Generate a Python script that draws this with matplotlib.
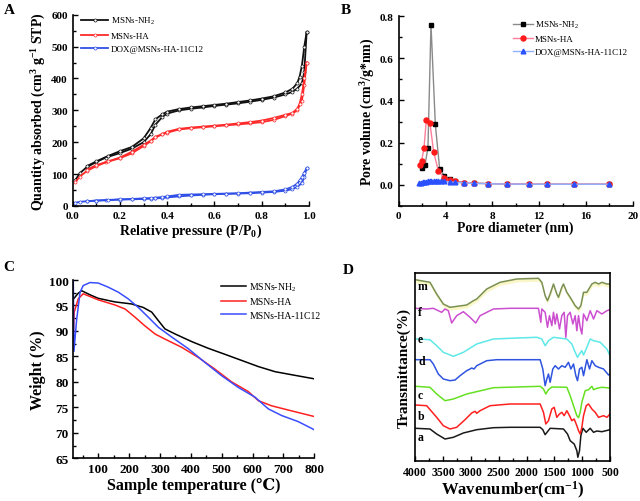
import matplotlib
matplotlib.use("Agg")
import matplotlib.pyplot as plt
from matplotlib.ticker import MultipleLocator

plt.rcParams['font.family'] = ['Liberation Serif', 'DejaVu Serif']
plt.rcParams['mathtext.fontset'] = 'custom'
plt.rcParams['mathtext.rm'] = 'Liberation Serif'
plt.rcParams['mathtext.bf'] = 'Liberation Serif:bold'
plt.rcParams['mathtext.it'] = 'Liberation Serif:italic'

# ---------------- Panel A data ----------------
A_p_ads = [0.01,0.03,0.06,0.1,0.14,0.2,0.25,0.3,0.33,0.35,0.38,0.4,0.45,0.5,0.55,0.6,0.65,0.7,0.75,0.8,0.85,0.9,0.93,0.95,0.97,0.98,0.99]
A_p_des = [0.99,0.98,0.97,0.96,0.95,0.93,0.9,0.85,0.8,0.75,0.7,0.65,0.6,0.55,0.5,0.45,0.4,0.38,0.35,0.33,0.3,0.25,0.2,0.15,0.1,0.06]
A_nh2_ads = [80,103,122,138,152,166,180,200,225,255,280,290,300,305,309,314,318,322,327,333,340,350,358,368,385,420,545]
A_nh2_des = [545,500,440,405,385,368,356,344,337,331,326,321,317,313,309,304,296,288,272,245,212,185,172,157,140,125]
A_ha_ads = [74,92,110,125,137,150,165,188,203,215,225,230,240,244,247,250,253,256,259,263,270,282,290,300,330,380,450]
A_ha_des = [450,400,350,320,305,292,286,276,268,263,259,255,252,249,246,242,233,226,217,205,192,170,152,140,128,114]
A_dox_ads = [10,13,15,17,18,20,21,22,23,24,25,27,30,33,35,37,38,39,40,42,44,48,53,60,72,90,118]
A_dox_des = [118,105,90,80,70,60,52,46,44,42,40,39,38,37,36,35,30,28,26,25,24,22,21,19,17,15]

# ---------------- Panel B data ----------------
B_nh2_d = [1.97,2.25,2.5,2.76,3.13,3.5,3.9,4.36,4.84,5.55,6.46,7.63,9.26,11.1,12.7,15.0,18.0]
B_nh2_v = [0.078,0.094,0.176,0.76,0.287,0.075,0.043,0.026,0.018,0.010,0.008,0.005,0.003,0.002,0.002,0.002,0.002]
B_ha_d = [1.82,1.96,2.16,2.36,2.67,2.99,3.39,3.9,4.36,4.84,5.55,6.46,7.63,9.26,11.1,12.7,15.0,18.0]
B_ha_v = [0.093,0.113,0.173,0.307,0.293,0.154,0.065,0.033,0.020,0.015,0.010,0.007,0.005,0.004,0.003,0.003,0.003,0.003]
B_dox_d = [1.75,1.9,2.05,2.2,2.35,2.5,2.65,2.8,3.0,3.2,3.4,3.65,3.9,4.36,4.84,5.55,6.46,7.63,9.26,11.1,12.7,15.0,18.0]
B_dox_v = [0.008,0.010,0.011,0.012,0.014,0.015,0.016,0.017,0.018,0.018,0.017,0.016,0.015,0.013,0.011,0.008,0.006,0.004,0.003,0.002,0.002,0.002,0.002]

# ---------------- Panel C data ----------------
C_nh2_T = [20,35,46,73,100,154,208,246,273,295,316,349,403,456,511,565,619,673,727,800]
C_nh2_W = [96.3,97.4,97.9,97.1,96.4,95.7,95.3,94.6,93.7,92.0,90.4,89.4,87.9,86.6,85.4,84.2,83.0,82.0,81.4,80.6]
C_ha_T = [20,22,35,51,100,154,187,219,251,284,316,370,424,478,532,586,619,662,727,800]
C_ha_W = [90.0,93.7,96.3,97.3,96.1,95.1,94.3,92.7,91.0,89.4,88.4,86.8,84.8,82.5,80.0,78.1,76.3,75.3,74.3,73.2]
C_c12_T = [19,21,30,41,51,73,100,132,165,197,230,262,295,338,392,446,500,554,608,651,694,748,800]
C_c12_W = [100.0,86.0,92.3,97.6,98.9,99.5,99.4,98.6,97.6,96.3,94.6,92.7,90.7,88.8,86.5,83.8,81.2,78.9,77.0,74.7,73.4,72.2,70.6]

# ---------------- Panel D data (offset spectra, arbitrary units) ----------------
D_a_wn = [4000,3736,3616,3466,3316,3136,2896,2596,2296,1756,1708,1666,1624,1576,1336,1264,1216,1144,1096,1078,1048,1024,988,928,856,796,736,646,500]
D_a_v = [32.7,32,27,22,23.7,28,31.3,33.3,33.7,33.7,31.3,26.3,29.3,32.7,32,27,20.3,17,10.3,3.7,10.3,25.3,32.7,28.7,32.7,28.7,30,29.3,31.3]
D_b_wn = [4000,3796,3616,3496,3376,3256,3106,2986,2926,2896,2836,2656,2296,1756,1696,1654,1606,1546,1504,1456,1408,1366,1324,1276,1228,1186,1144,1096,1066,1036,1006,976,928,886,826,766,706,616,556,500]
D_b_v = [56,55.3,43.7,35.3,32,33.7,41.3,48,49.7,47.7,50.3,55.3,57,57,48.7,37,40.3,52,53.7,43.7,47,48.7,45.3,50.3,45.3,40.3,42,35.3,30.3,27,33.7,45.3,55.3,57,52,48.7,43.7,45.3,43.7,47]
D_c_wn = [4000,3736,3616,3466,3316,3076,2596,1756,1696,1654,1606,1546,1276,1216,1156,1096,1066,1036,1006,946,886,826,796,736,646,500]
D_c_v = [74.7,73.7,67,60.3,62,67,73.3,74.7,72,67,71.3,74,73.7,65.3,55.3,45.3,43.3,48.7,58.7,70.3,71.3,74.7,71.3,72.7,73.7,73]
D_d_wn = [4000,3736,3676,3586,3496,3376,3286,3196,3076,3016,2986,2944,2896,2716,2536,1756,1708,1666,1636,1606,1576,1528,1486,1426,1366,1306,1246,1204,1156,1114,1084,1048,1006,976,916,868,826,766,706,616,526,500]
D_d_v = [101.3,101.3,97,87,82,80.3,81,85.3,90.3,92,93,92,95.3,100.3,101.3,101.3,92,75.3,82,87,78.7,92,95.3,92,95.3,93.7,98.7,92,97,85.3,80.3,92,93.7,85.3,101.3,92,100.3,95.3,93.7,92,86,87]
D_e_wn = [4000,3736,3616,3496,3316,3136,2896,2596,2296,1816,1726,1666,1606,1516,1276,1186,1126,1084,1048,1006,976,916,856,796,676,556,500]
D_e_v = [122,121.3,115.3,108.7,104.7,108.7,117,122,122.7,123.7,122,115.3,120.3,123.7,122,117,108.7,103.7,107,110.3,106,113.7,122,120.3,118.7,112,105.3]
D_f_wn = [4000,3796,3676,3526,3466,3406,3346,3256,3136,3016,2914,2836,2596,2296,1786,1744,1726,1666,1624,1588,1546,1516,1486,1456,1408,1366,1324,1294,1264,1216,1168,1126,1096,1066,1036,1006,976,916,856,796,736,646,556,500]
D_f_v = [152.7,152,152.7,148.7,152,150.3,138,145.3,149.3,143.7,138,145.3,152,152.7,152.7,138.7,152,148.7,133.7,145.3,135.3,148.7,137,147,132,145.3,148.7,123.7,145.3,148.7,137,145.3,130.3,145.3,133.7,127,147,140.3,150.3,142,150.3,147,150.3,151.3]
D_m_wn = [4000,3736,3616,3496,3376,3076,2956,2896,2716,2476,2176,1786,1726,1666,1624,1576,1516,1456,1426,1366,1336,1276,1216,1126,1066,1024,976,916,826,766,706,646,556,500]
D_m_v = [181.3,178.7,167,157,153.7,156,160.3,162,172,178.7,182,182.7,178.7,165.3,160.3,167,177,167,163.7,173.7,177,168.7,163.7,155.3,152,155.3,168.7,168.7,177,178.7,177,178.7,177,177]
D_labels = ['a', 'b', 'c', 'd', 'e', 'f', 'm']
D_label_v = [23.7, 45.3, 66, 100.3, 122, 149.3, 175.3]

W, H = 640, 502
fig = plt.figure(figsize=(6.4, 5.02), dpi=100)

def ax_rect(l, t, r, b):
    return [l / W, 1 - b / H, (r - l) / W, (b - t) / H]

lab_fs = 10

def style_ax(ax, tick_fs=8, box=False):
    ax.tick_params(which='both', direction='in', labelsize=tick_fs, width=1.0)
    ax.tick_params(which='major', length=3.5)
    ax.tick_params(which='minor', length=2)
    for lab in ax.get_xticklabels() + ax.get_yticklabels():
        lab.set_fontweight('bold')
    for s in ['left', 'bottom']:
        ax.spines[s].set_linewidth(1.2)
    if not box:
        ax.spines['top'].set_visible(False)
        ax.spines['right'].set_visible(False)
    else:
        ax.spines['top'].set_linewidth(1.2)
        ax.spines['right'].set_linewidth(1.2)

# ---------- Panel A ----------
axA = fig.add_axes(ax_rect(72.7, 15.7, 309, 207))
colA = {'nh2': '#111111', 'ha': '#ff2a2a', 'dox': '#2f4fe6'}
for key, ads, des, lab in [('nh2', A_nh2_ads, A_nh2_des, 'MSNs-NH$_2$'),
                           ('ha', A_ha_ads, A_ha_des, 'MSNs-HA'),
                           ('dox', A_dox_ads, A_dox_des, 'DOX@MSNs-HA-11C12')]:
    c = colA[key]
    axA.plot(A_p_ads, ads, '-o', color=c, lw=1.3, ms=2.2, mfc='white', mew=0.5, label=lab)
    axA.plot(A_p_des, des, '-o', color=c, lw=1.3, ms=2.2, mfc='white', mew=0.5)
axA.set_xlim(0, 1.0)
axA.set_ylim(0, 600)
axA.xaxis.set_minor_locator(MultipleLocator(0.1))
axA.yaxis.set_major_locator(MultipleLocator(100))
axA.yaxis.set_minor_locator(MultipleLocator(50))
axA.set_xticks([0, 0.2, 0.4, 0.6, 0.8, 1.0])
axA.set_xticklabels(['0.0', '0.2', '0.4', '0.6', '0.8', '1.0'])
style_ax(axA)
axA.set_xlabel('Relative pressure (P/P$_\\mathbf{0}$)', fontsize=lab_fs, fontweight='bold', labelpad=1)
axA.set_ylabel('Quantity absorbed (cm$^\\mathbf{3}$ g$^\\mathbf{-1}$ STP)', fontsize=lab_fs, fontweight='bold', labelpad=2)
axA.legend(loc='upper left', bbox_to_anchor=(0.01, 1.03), frameon=False, fontsize=6.5,
           handlelength=3.0, handletextpad=0.3, labelspacing=0.55, borderpad=0.2)

# ---------- Panel B ----------
axB = fig.add_axes(ax_rect(398.7, 17.3, 632.7, 206.7))
axB.plot(B_nh2_d, B_nh2_v, '-s', color='#8a8a8a', lw=1.0, ms=3.3, mfc='black', mec='black', label='MSNs-NH$_2$')
axB.plot(B_ha_d, B_ha_v, '-o', color='#ff7f9a', lw=1.0, ms=3.6, mfc='#ff1a1a', mec='#ff1a1a', label='MSNs-HA')
axB.plot(B_dox_d, B_dox_v, '-^', color='#8fb0ff', lw=1.0, ms=3.4, mfc='#2a50ff', mec='#2a50ff', label='DOX@MSNs-HA-11C12')
axB.set_xlim(0, 20)
axB.set_ylim(-0.1, 0.8)
axB.set_xticks([0, 4, 8, 12, 16, 20])
axB.xaxis.set_minor_locator(MultipleLocator(2))
axB.set_yticks([0.0, 0.2, 0.4, 0.6, 0.8])
axB.set_yticklabels(['0.0', '0.2', '0.4', '0.6', '0.8'])
axB.yaxis.set_minor_locator(MultipleLocator(0.1))
style_ax(axB)
axB.set_xlabel('Pore diameter (nm)', fontsize=lab_fs, fontweight='bold', labelpad=1)
axB.set_ylabel('Pore volume (cm$^\\mathbf{3}$/g*nm)', fontsize=lab_fs, fontweight='bold', labelpad=2)
axB.legend(loc='upper left', bbox_to_anchor=(0.46, 1.02), frameon=False, fontsize=6.5,
           handlelength=2.2, handletextpad=0.3, labelspacing=0.5, borderpad=0.2)

# ---------- Panel C ----------
axC = fig.add_axes(ax_rect(73.3, 281, 314.3, 459.3))
axC.plot(C_nh2_T, C_nh2_W, color='black', lw=1.1, label='MSNs-NH$_2$')
axC.plot(C_ha_T, C_ha_W, color='#ff2020', lw=1.1, label='MSNs-HA')
axC.plot(C_c12_T, C_c12_W, color='#3a4dff', lw=1.1, label='MSNs-HA-11C12')
axC.set_xlim(19, 800)
axC.set_ylim(65, 100)
axC.set_xticks([100, 200, 300, 400, 500, 600, 700, 800])
axC.xaxis.set_minor_locator(MultipleLocator(50))
axC.yaxis.set_major_locator(MultipleLocator(5))
axC.yaxis.set_minor_locator(MultipleLocator(2.5))
style_ax(axC, tick_fs=9.5)
axC.set_xlabel('Sample temperature (\u2103)', fontsize=lab_fs + 1.5, fontweight='bold', labelpad=1)
axC.set_ylabel('Weight (%)', fontsize=lab_fs + 1.5, fontweight='bold', labelpad=2)
axC.legend(loc='upper left', bbox_to_anchor=(0.585, 1.035), frameon=False, fontsize=7,
           handlelength=2.6, handletextpad=0.3, labelspacing=0.45, borderpad=0.2)

# ---------- Panel D ----------
axD = fig.add_axes(ax_rect(415.3, 274, 610, 462))
specs = [(D_a_wn, D_a_v, '#1a1a1a'), (D_b_wn, D_b_v, '#ff2020'), (D_c_wn, D_c_v, '#66e022'),
         (D_d_wn, D_d_v, '#2f55e0'), (D_e_wn, D_e_v, '#5ee8e8'), (D_f_wn, D_f_v, '#cc4fd0'),
         (D_m_wn, D_m_v, '#7a9050')]
axD.fill_between(D_m_wn, [v - 3 for v in D_m_v], D_m_v, color='#faf6c8', lw=0, zorder=1)
for wn, v, c in specs:
    axD.plot(wn, v, color=c, lw=1.1, zorder=2)
for lab, v in zip(D_labels, D_label_v):
    axD.text(3950, v, lab, fontsize=8.5, fontweight='bold', va='center', ha='left')
axD.set_xlim(4000, 500)
axD.set_ylim(0, 188)
axD.set_xticks([4000, 3500, 3000, 2500, 2000, 1500, 1000, 500])
axD.xaxis.set_minor_locator(MultipleLocator(250))
axD.set_yticks([])
style_ax(axD, tick_fs=8.5, box=True)
axD.set_xlabel('Wavenumber(cm$^\\mathbf{-1}$)', fontsize=lab_fs + 2, fontweight='bold', labelpad=1)
axD.set_ylabel('Transmittance(%)', fontsize=lab_fs + 1, fontweight='bold', labelpad=3)

# Panel letters
for txt, x, y in [('A', 4, 14), ('B', 341, 14), ('C', 3, 271), ('D', 343, 274)]:
    fig.text(x / W, 1 - y / H, txt, fontsize=11, fontweight='bold', ha='left', va='baseline')

fig.savefig('out.png', dpi=100)
